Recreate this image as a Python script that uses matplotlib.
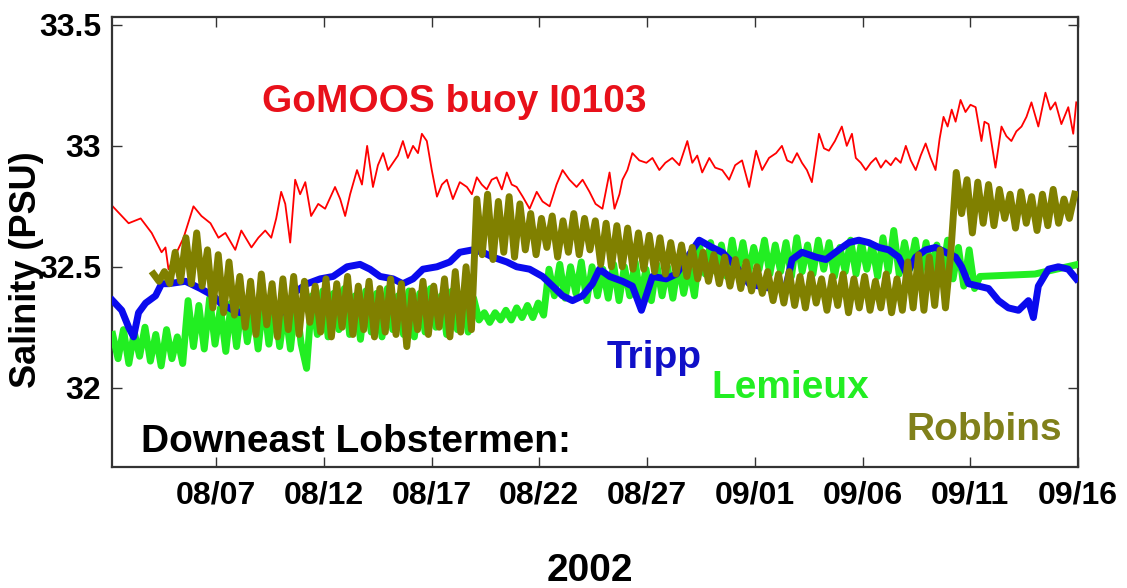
import numpy as np
import matplotlib
matplotlib.use("Agg")
import matplotlib.pyplot as plt
from matplotlib import font_manager

# ---------------- data (time in days of August 2002; Sep 1 = day 32) ----------------
red_t = [2.20, 2.94, 3.50, 4.01, 4.47, 4.65, 4.79, 5.12, 5.49, 5.95,
         6.32, 6.74, 7.11, 7.43, 7.89, 8.17, 8.64, 8.96, 9.28, 9.56,
         9.79, 10.02, 10.21, 10.44, 10.67, 10.90, 11.14, 11.41, 11.74, 12.06,
         12.52, 12.76, 12.99, 13.22, 13.54, 13.77, 14.01, 14.28, 14.51, 14.75,
         14.98, 15.21, 15.44, 15.67, 15.90, 16.14, 16.37, 16.55, 16.78, 17.01,
         17.25, 17.48, 17.71, 17.99, 18.31, 18.64, 18.87, 19.10, 19.33, 19.56,
         19.79, 20.02, 20.26, 20.49, 20.72, 20.95, 21.23, 21.55, 21.88, 22.15,
         22.48, 22.80, 23.08, 23.40, 23.73, 24.01, 24.33, 24.61, 24.93, 25.26,
         25.49, 25.72, 25.86, 26.09, 26.32, 26.64, 26.97, 27.25, 27.57, 27.85,
         28.17, 28.50, 28.87, 29.10, 29.33, 29.56, 29.89, 30.16, 30.49, 30.81,
         31.09, 31.41, 31.74, 32.06, 32.34, 32.66, 32.99, 33.26, 33.50, 33.73,
         33.96, 34.19, 34.42, 34.65, 34.98, 35.21, 35.44, 35.72, 36.04, 36.27,
         36.51, 36.69, 36.92, 37.15, 37.39, 37.62, 37.85, 38.08, 38.31, 38.54,
         38.77, 39.01, 39.24, 39.47, 39.70, 39.93, 40.16, 40.39, 40.58, 40.76,
         40.95, 41.14, 41.32, 41.55, 41.78, 42.01, 42.25, 42.52, 42.66, 42.85,
         43.17, 43.45, 43.68, 43.91, 44.14, 44.38, 44.61, 44.84, 45.16, 45.49,
         45.72, 45.95, 46.23, 46.55, 46.78, 46.92]
red_v = [32.75, 32.68, 32.70, 32.64, 32.56, 32.58, 32.49, 32.55, 32.62, 32.75,
         32.71, 32.68, 32.62, 32.64, 32.57, 32.65, 32.58, 32.62, 32.65, 32.62,
         32.70, 32.81, 32.76, 32.60, 32.86, 32.80, 32.85, 32.71, 32.76, 32.74,
         32.83, 32.78, 32.71, 32.80, 32.90, 32.84, 33.00, 32.83, 32.92, 32.97,
         32.90, 32.93, 32.96, 33.02, 32.95, 33.00, 32.97, 33.05, 33.02, 32.90,
         32.79, 32.84, 32.86, 32.78, 32.85, 32.83, 32.80, 32.87, 32.84, 32.82,
         32.86, 32.87, 32.82, 32.89, 32.84, 32.83, 32.79, 32.74, 32.81, 32.77,
         32.75, 32.84, 32.90, 32.86, 32.83, 32.86, 32.81, 32.76, 32.74, 32.89,
         32.74, 32.80, 32.86, 32.90, 32.97, 32.94, 32.93, 32.95, 32.90, 32.93,
         32.95, 32.92, 33.02, 32.93, 32.96, 32.89, 32.95, 32.91, 32.90, 32.86,
         32.92, 32.94, 32.83, 32.98, 32.90, 32.95, 32.97, 33.00, 32.94, 32.93,
         32.97, 32.93, 32.90, 32.85, 33.05, 32.99, 32.98, 33.02, 33.08, 33.00,
         33.05, 32.95, 32.93, 32.90, 32.93, 32.95, 32.91, 32.94, 32.92, 32.95,
         32.93, 33.00, 32.94, 32.90, 32.96, 33.01, 32.95, 32.90, 33.03, 33.12,
         33.08, 33.15, 33.10, 33.19, 33.14, 33.17, 33.16, 33.02, 33.10, 33.09,
         32.91, 33.08, 33.04, 33.02, 33.06, 33.08, 33.12, 33.18, 33.08, 33.22,
         33.15, 33.18, 33.09, 33.16, 33.05, 33.18]

tripp_t = [2.20, 2.62, 2.94, 3.17, 3.40, 3.73, 4.19, 4.47, 4.79, 5.58,
           6.27, 6.88, 7.20, 7.80, 8.13, 8.45, 9.05, 9.51, 9.98, 10.30,
           10.58, 11.23, 11.83, 12.43, 13.08, 13.68, 14.14, 14.61, 15.21, 15.67,
           16.14, 16.60, 17.25, 17.85, 18.31, 18.91, 19.38, 19.84, 20.49, 20.95,
           21.55, 22.15, 22.62, 23.08, 23.54, 24.01, 24.47, 24.79, 25.26, 25.86,
           26.32, 26.74, 27.25, 27.89, 28.36, 28.96, 29.42, 30.02, 30.49, 31.14,
           31.74, 32.20, 32.80, 33.45, 33.73, 34.19, 34.84, 35.30, 35.90, 36.37,
           36.83, 37.29, 37.76, 38.22, 38.68, 39.05, 39.47, 39.93, 40.39, 40.86,
           41.32, 41.60, 41.92, 42.39, 42.85, 43.31, 43.77, 44.24, 44.70, 44.93,
           45.16, 45.63, 46.09, 46.55, 46.92]
tripp_v = [32.36, 32.32, 32.25, 32.21, 32.31, 32.35, 32.38, 32.43, 32.43, 32.44,
           32.41, 32.38, 32.35, 32.32, 32.31, 32.33, 32.34, 32.33, 32.31, 32.32,
           32.39, 32.43, 32.45, 32.46, 32.50, 32.51, 32.49, 32.46, 32.45, 32.43,
           32.45, 32.49, 32.50, 32.52, 32.56, 32.57, 32.56, 32.54, 32.52, 32.50,
           32.49, 32.46, 32.42, 32.38, 32.36, 32.38, 32.43, 32.49, 32.46, 32.44,
           32.42, 32.32, 32.46, 32.45, 32.47, 32.55, 32.61, 32.58, 32.56, 32.50,
           32.43, 32.42, 32.41, 32.42, 32.53, 32.56, 32.54, 32.53, 32.57, 32.60,
           32.61, 32.60, 32.58, 32.57, 32.54, 32.47, 32.54, 32.57, 32.58, 32.56,
           32.54, 32.50, 32.43, 32.42, 32.41, 32.36, 32.33, 32.32, 32.36, 32.29,
           32.42, 32.49, 32.50, 32.49, 32.45]

# Lemieux: samples every quarter day starting Aug 2.2, then a gap bridged to the end
lemieux_start = 2.2
sample_step = 0.25
lemieux_v = [32.22, 32.12, 32.24, 32.10, 32.23, 32.13, 32.25, 32.11, 32.22, 32.09,
             32.24, 32.12, 32.21, 32.10,
             32.36, 32.17, 32.34, 32.16, 32.37, 32.18, 32.33, 32.15, 32.35, 32.17,
             32.36, 32.19, 32.34, 32.16, 32.37, 32.18, 32.35, 32.17, 32.33, 32.16,
             32.36, 32.18,
             32.08,
             32.38, 32.22, 32.40, 32.21, 32.39, 32.24, 32.41, 32.22, 32.38, 32.20,
             32.40, 32.23, 32.39, 32.21, 32.41, 32.24, 32.38, 32.22, 32.40, 32.21,
             32.39, 32.23, 32.41, 32.25, 32.38, 32.22, 32.40, 32.24, 32.39, 32.23,
             32.37,
             32.28, 32.31, 32.27, 32.31, 32.28, 32.32, 32.28, 32.33, 32.29, 32.34,
             32.29, 32.35, 32.30,
             32.49, 32.38, 32.51, 32.37, 32.50, 32.39, 32.52, 32.36, 32.50, 32.38,
             32.49, 32.37, 32.51, 32.36, 32.50, 32.38, 32.52, 32.37, 32.49, 32.36,
             32.51, 32.38, 32.50, 32.37, 32.52, 32.39, 32.50, 32.38,
             32.58, 32.47, 32.60, 32.48, 32.59, 32.46, 32.61, 32.48, 32.60, 32.47,
             32.58, 32.49, 32.61, 32.47, 32.59, 32.48, 32.60, 32.46, 32.62, 32.48,
             32.59, 32.47, 32.61, 32.49, 32.60, 32.46, 32.58, 32.48, 32.61, 32.47,
             32.60, 32.49, 32.59, 32.46, 32.62, 32.48, 32.65, 32.47, 32.60, 32.49,
             32.61, 32.47, 32.60, 32.48, 32.59, 32.46, 32.61, 32.45,
             32.58, 32.42, 32.57, 32.41, 32.46]
lemieux_tail_t = [45.0, 47.0]
lemieux_tail_v = [32.47, 32.51]

# Robbins: samples every quarter day starting Aug 4.1
robbins_start = 4.1
robbins_v = [32.47, 32.44, 32.48, 32.43,
             32.56, 32.44, 32.62, 32.43, 32.64, 32.42,
             32.57, 32.33, 32.55, 32.31, 32.52, 32.30,
             32.46, 32.25, 32.44, 32.22, 32.47, 32.26, 32.43, 32.21, 32.45, 32.24,
             32.46, 32.22, 32.44, 32.27, 32.42, 32.23, 32.45, 32.21, 32.43, 32.25,
             32.46, 32.22, 32.42, 32.24, 32.44, 32.21, 32.41, 32.23, 32.45, 32.22,
             32.43, 32.17, 32.40, 32.24, 32.44, 32.22, 32.42, 32.25, 32.45, 32.21,
             32.48, 32.23, 32.50, 32.24,
             32.78, 32.55, 32.80, 32.53, 32.77, 32.56, 32.79, 32.54, 32.76,
             32.57, 32.72, 32.55, 32.70, 32.58, 32.71, 32.54, 32.69, 32.56, 32.72,
             32.55, 32.70, 32.57, 32.69,
             32.51, 32.68, 32.50, 32.67, 32.50, 32.66, 32.49, 32.64, 32.49, 32.63,
             32.48, 32.62, 32.47, 32.60, 32.47, 32.59, 32.46, 32.58, 32.45,
             32.56, 32.44, 32.55, 32.43, 32.54, 32.42, 32.53, 32.41, 32.52, 32.40,
             32.50, 32.39,
             32.48, 32.36, 32.47, 32.35, 32.48, 32.34, 32.46, 32.33, 32.47, 32.35,
             32.45, 32.32, 32.46, 32.34, 32.47, 32.31, 32.45, 32.33, 32.46, 32.32,
             32.44, 32.33, 32.47, 32.31, 32.45, 32.32,
             32.52, 32.33, 32.55, 32.32, 32.54, 32.34, 32.57, 32.33, 32.56,
             32.89, 32.72, 32.86, 32.64, 32.85, 32.68, 32.84, 32.67, 32.82, 32.70,
             32.80, 32.66, 32.81, 32.68, 32.79, 32.65, 32.80, 32.67, 32.82, 32.68,
             32.78, 32.70, 32.80]

x_ticks = [7, 12, 17, 22, 27, 32, 37, 42, 47]
x_tick_labels = ["08/07", "08/12", "08/17", "08/22", "08/27", "09/01", "09/06", "09/11", "09/16"]
y_ticks = [32.0, 32.5, 33.0, 33.5]
y_tick_labels = ["32", "32.5", "33", "33.5"]

# ---------------- fonts ----------------
installed = {f.name for f in font_manager.fontManager.ttflist}
if 'Liberation Sans Narrow' in installed:
    TXT = ['Liberation Sans Narrow', 'Liberation Sans', 'DejaVu Sans']
    fs_ann, fs_xt, fs_yt, fs_year = 33, 28, 26, 33
else:
    TXT = ['Liberation Sans', 'DejaVu Sans']
    fs_ann, fs_xt, fs_yt, fs_year = 28, 23, 23, 28
YLAB = ['Liberation Sans', 'DejaVu Sans']

plt.rcParams['font.family'] = TXT
plt.rcParams['font.weight'] = 'bold'

fig = plt.figure(figsize=(11.27, 5.88), dpi=100)
ax = fig.add_axes([0.0994, 0.2058, 0.8571, 0.7653])

RED = '#ff0000'
BLUE = '#0a0aee'
GREEN = '#22ee22'
OLIVE = '#808000'

lemieux_t = list(lemieux_start + sample_step * np.arange(len(lemieux_v))) + lemieux_tail_t
lemieux_all = list(lemieux_v) + lemieux_tail_v
robbins_t = robbins_start + sample_step * np.arange(len(robbins_v))

ax.plot(red_t, red_v, color=RED, lw=1.3, zorder=2)
ax.plot(lemieux_t, lemieux_all, color=GREEN, lw=5, zorder=3)
ax.plot(tripp_t, tripp_v, color=BLUE, lw=5, zorder=4)
ax.plot(robbins_t, robbins_v, color=OLIVE, lw=5, zorder=5)

ax.set_xlim(2.17, 47.0)
ax.set_ylim(31.672, 33.533)
ax.set_xticks(x_ticks)
ax.set_xticklabels(x_tick_labels)
ax.set_yticks(y_ticks)
ax.set_yticklabels(y_tick_labels)
ax.tick_params(direction='in', length=7, width=1, top=True, right=True,
               pad=9, colors='#333333', labelcolor='black')
ax.tick_params(axis='x', labelsize=fs_xt, pad=10)
ax.tick_params(axis='y', labelsize=fs_yt, pad=8)
for s in ax.spines.values():
    s.set_linewidth(1.6)
    s.set_color('#333333')

ax.text(9.14, 33.14, "GoMOOS buoy I0103", color='#e8101a', fontsize=fs_ann,
        fontweight='bold', ha='left', va='baseline')
ax.text(25.12, 32.083, "Tripp", color='#1010c8', fontsize=fs_ann,
        fontweight='bold', ha='left', va='baseline')
ax.text(29.98, 31.959, "Lemieux", color=GREEN, fontsize=fs_ann,
        fontweight='bold', ha='left', va='baseline')
ax.text(39.05, 31.785, "Robbins", color='#80801a', fontsize=fs_ann,
        fontweight='bold', ha='left', va='baseline')
ax.text(3.5, 31.736, "Downeast Lobstermen:", color='black', fontsize=fs_ann,
        fontweight='bold', ha='left', va='baseline')

fig.text(590 / 1127, 1 - 571 / 588, "2002", fontsize=fs_year, fontweight='bold',
         ha='center', va='center')
fig.text(27 / 1127, 1 - 270 / 588, "Salinity (PSU)", fontsize=26, fontweight='bold',
         family=YLAB, rotation=90, ha='center', va='center')

fig.savefig("out.png", dpi=100)
